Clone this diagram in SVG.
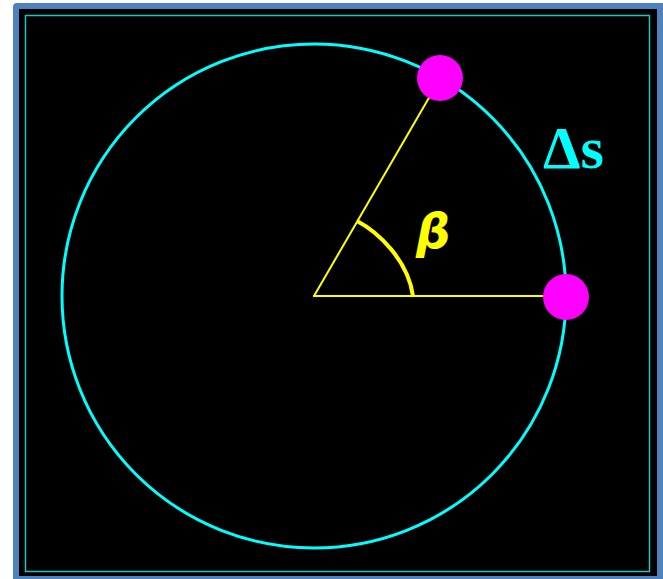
<svg xmlns="http://www.w3.org/2000/svg" width="663" height="579" viewBox="0 0 663 579">
<style>
.yl{stroke:#ffff00;fill:none}
.dot{fill:#ff00ff}
</style>
<rect width="663" height="579" fill="#ffffff"/>
<g id="frame">
<rect x="13" y="3" width="656" height="586" rx="4" fill="#4f81bd"/>
<rect x="19" y="9" width="638" height="567" fill="#000000"/>
<rect x="25.5" y="15.5" width="624" height="556" fill="none" stroke="#1cc4c4" stroke-width="1.5"/>
</g>
<g id="circle">
<circle cx="314" cy="296" r="252" fill="none" stroke="#00ffff" stroke-width="3"/>
</g>
<g id="connectors">
<line class="yl" x1="313" y1="296" x2="547" y2="296" stroke-width="2"/>
<line class="yl" x1="314" y1="296" x2="430" y2="96" stroke-width="2"/>
<path class="yl" d="M357,221 C378,232 408,260 413,296" stroke-width="4"/>
</g>
<g id="point-top"><circle class="dot" cx="440" cy="78" r="23"/></g>
<g id="point-right"><circle class="dot" cx="566" cy="297" r="23"/></g>
<g id="label-beta"><text x="416" y="248" font-family="DejaVu Sans, sans-serif" font-weight="bold" font-style="italic" font-size="48" fill="#ffff00">β</text></g>
<g id="label-ds"><text x="543" y="168" font-family="Liberation Serif, serif" font-weight="bold" font-size="60" fill="#00ffff">Δs</text></g>
</svg>
